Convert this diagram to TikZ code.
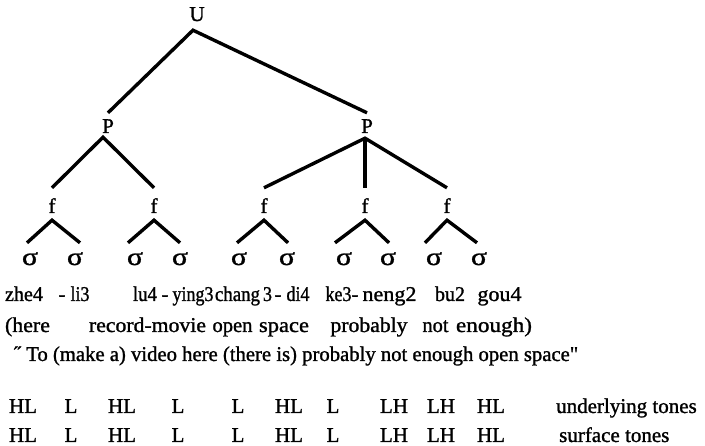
\documentclass[tikz,border=0pt]{standalone}
\usepackage{fontspec}
\usepackage{graphicx}
\setmainfont{Liberation Serif}[Ligatures=TeXOff, FakeBold=1.2,
  BoldFont={Liberation Serif}]
% squeeze or stretch a word horizontally to a given width (in pt)
\newcommand\fitw[2]{\resizebox{#1pt}{\height}{#2}}
\tikzset{
  txt/.style={font=\fontsize{21}{25}\selectfont\bfseries, inner sep=0pt},
  lbl/.style={txt, anchor=base},
  sig/.style={inner sep=0pt, anchor=base, text height=22pt,
              font=\fontsize{25}{28}\selectfont\bfseries},
  word/.style={txt, anchor=base},
  wordw/.style={txt, anchor=base west},
  tone/.style={txt, anchor=base, text depth=0pt},
  branch/.style={line width=3.4pt, line join=miter}
}
\newcommand\sig{\resizebox{16pt}{\height}{σ}}
\begin{document}
\begin{tikzpicture}[x=1pt,y=-1pt]
\useasboundingbox (0,0) rectangle (705,446);

% ---- tree labels ----
\node[lbl, text depth=9pt] (U) at (197,21) {U};
\node[lbl, text height=20pt, text depth=4pt] (P1) at (108,133) {P};
\node[lbl, text height=20pt, text depth=5pt] (P2) at (367,133) {P};
\foreach \x [count=\i] in {52,154,264,365,447}
  \node[lbl, text height=25pt, text depth=7pt] (f\i) at (\x,213) {f};
\foreach \x [count=\i] in {30,75,135,180,239,287,344,388,434,479}
  \node[sig] (s\i) at (\x,265) {\sig};

% ---- branches ----
\draw[branch] (P1.north) -- ([xshift=-4pt]U.south) -- (P2.north);
\draw[branch] (f1.north) -- ([xshift=-5pt]P1.south) -- (f2.north);
\draw[branch] (f3.north) -- ([xshift=-2pt]P2.south) -- (f5.north);
\draw[branch] ([xshift=-2pt]P2.south) -- (f4.north);
\draw[branch] ([xshift=-3pt]s1.north) -- (f1.south) -- ([xshift=5pt]s2.north);
\draw[branch] ([xshift=-7pt]s3.north) -- (f2.south) -- (s4.north);
\draw[branch] ([xshift=-2pt]s5.north) -- (f3.south) -- ([xshift=1pt]s6.north);
\draw[branch] ([xshift=-9pt]s7.north) -- (f4.south) -- ([xshift=1pt]s8.north);
\draw[branch] ([xshift=-9pt]s9.north) -- (f5.south) -- ([xshift=-2pt]s10.north);

% ---- syllables (centre x / width) ----
\foreach \x/\w/\t [count=\i] in {24/38/zhe4, 62/7/-, 80/19/li3, 145/24/lu4,
    165/7/-, 193/41/ying3, 237.5/45/chang, 267.5/9/3, 278/7/-, 298/23/di4,
    338.5/26/ke3, 355/7/-, 389.5/54/neng2, 450/30/bu2, 499.5/44/gou4}
  \node[word] (a\i) at (\x,301) {\fitw{\w}{\t}};

% ---- glosses ----
\foreach \x/\w/\t [count=\i] in {27.5/45/{(here}, 147.5/117/{record-movie},
    232.5/40/{open}, 284/50/{space}, 369/77/{probably}, 435.5/26/{not},
    494/76/{enough)}}
  \node[word] (g\i) at (\x,332) {\fitw{\w}{\t}};

% ---- translation ----
\node[wordw] (tr) at (14,361)
  {\fitw{564}{˝ To (make a) video here (there is) probably not enough open space"}};

% ---- tones ----
\foreach \x/\t [count=\i] in {23/HL, 71/L, 122/HL, 178/L, 238/L, 289/HL,
    333/L, 394/LH, 441/LH, 491/HL} {
  \node[tone] (u\i) at (\x,413) {\t};
  \node[tone] (v\i) at (\x,442) {\t};
}
\node[wordw] (ul) at (556,413) {underlying tones};
\node[wordw] (sl) at (559,442) {surface tones};
\end{tikzpicture}
\end{document}
